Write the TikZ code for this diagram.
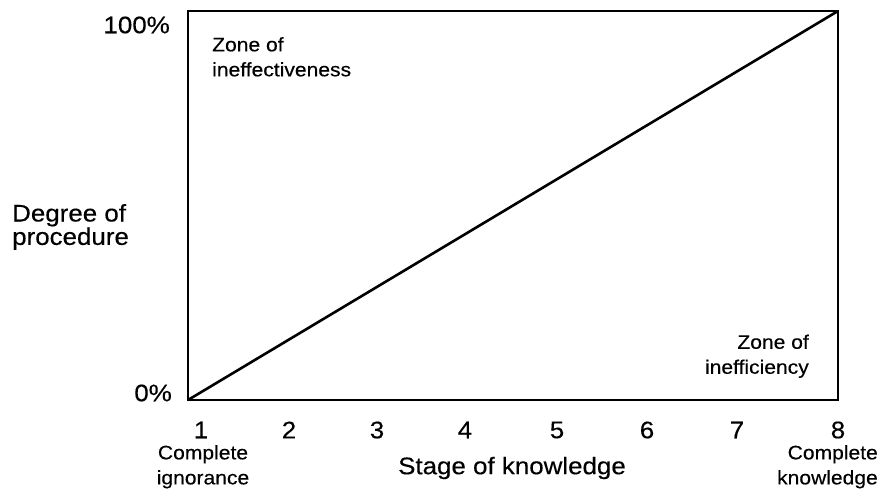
\documentclass[tikz,border=0pt]{standalone}
\usepackage{fontspec}
\setmainfont{Liberation Sans}[FakeStretch=1.08,FakeBold=0.3]
\begin{document}
\begin{tikzpicture}[x=1pt,y=-1pt,
  frame/.style={line width=2.6pt,line join=miter},
  big/.style={font=\fontsize{24}{20}\selectfont,inner sep=0pt},
  small/.style={font=\fontsize{19.5}{25}\selectfont,inner sep=0pt},
  tick/.style={big,anchor=center}]
\useasboundingbox (0,0) rectangle (882,495);
% corners of the chart frame
\coordinate (bl) at (188,400);
\coordinate (tl) at (188,11);
\coordinate (tr) at (838,11);
\coordinate (br) at (838,400);
\draw[frame] (bl) -- (tl) -- (tr) -- (br) -- cycle;
\draw[line width=2.6pt] (bl) -- (tr);
% vertical axis
\node[big,anchor=east] (top) at (170,25) {100\%};
\node[big,anchor=east] (bot) at (172,393) {0\%};
\node[big,anchor=west,align=left] (ylab) at (12,227) {Degree of\\procedure};
% zones
\node[small,anchor=north west,align=left] (zin) at (212,37) {Zone of\\ineffectiveness};
\node[small,anchor=south east,align=right] (zeff) at (809,378) {Zone of\\inefficiency};
% stage numbers
\foreach \n/\x in {1/201,2/289,3/377,4/465,5/557,6/647,7/737,8/838}
  \node[tick] (s\n) at (\x,430) {\n};
\node[small,anchor=north,align=center] (ign) at (203,445) {Complete\\ignorance};
\node[small,anchor=north east,align=right] (know) at (878,445) {Complete\\knowledge};
\node[big,anchor=center] (xlab) at (512,468) {Stage of knowledge};
\end{tikzpicture}
\end{document}
